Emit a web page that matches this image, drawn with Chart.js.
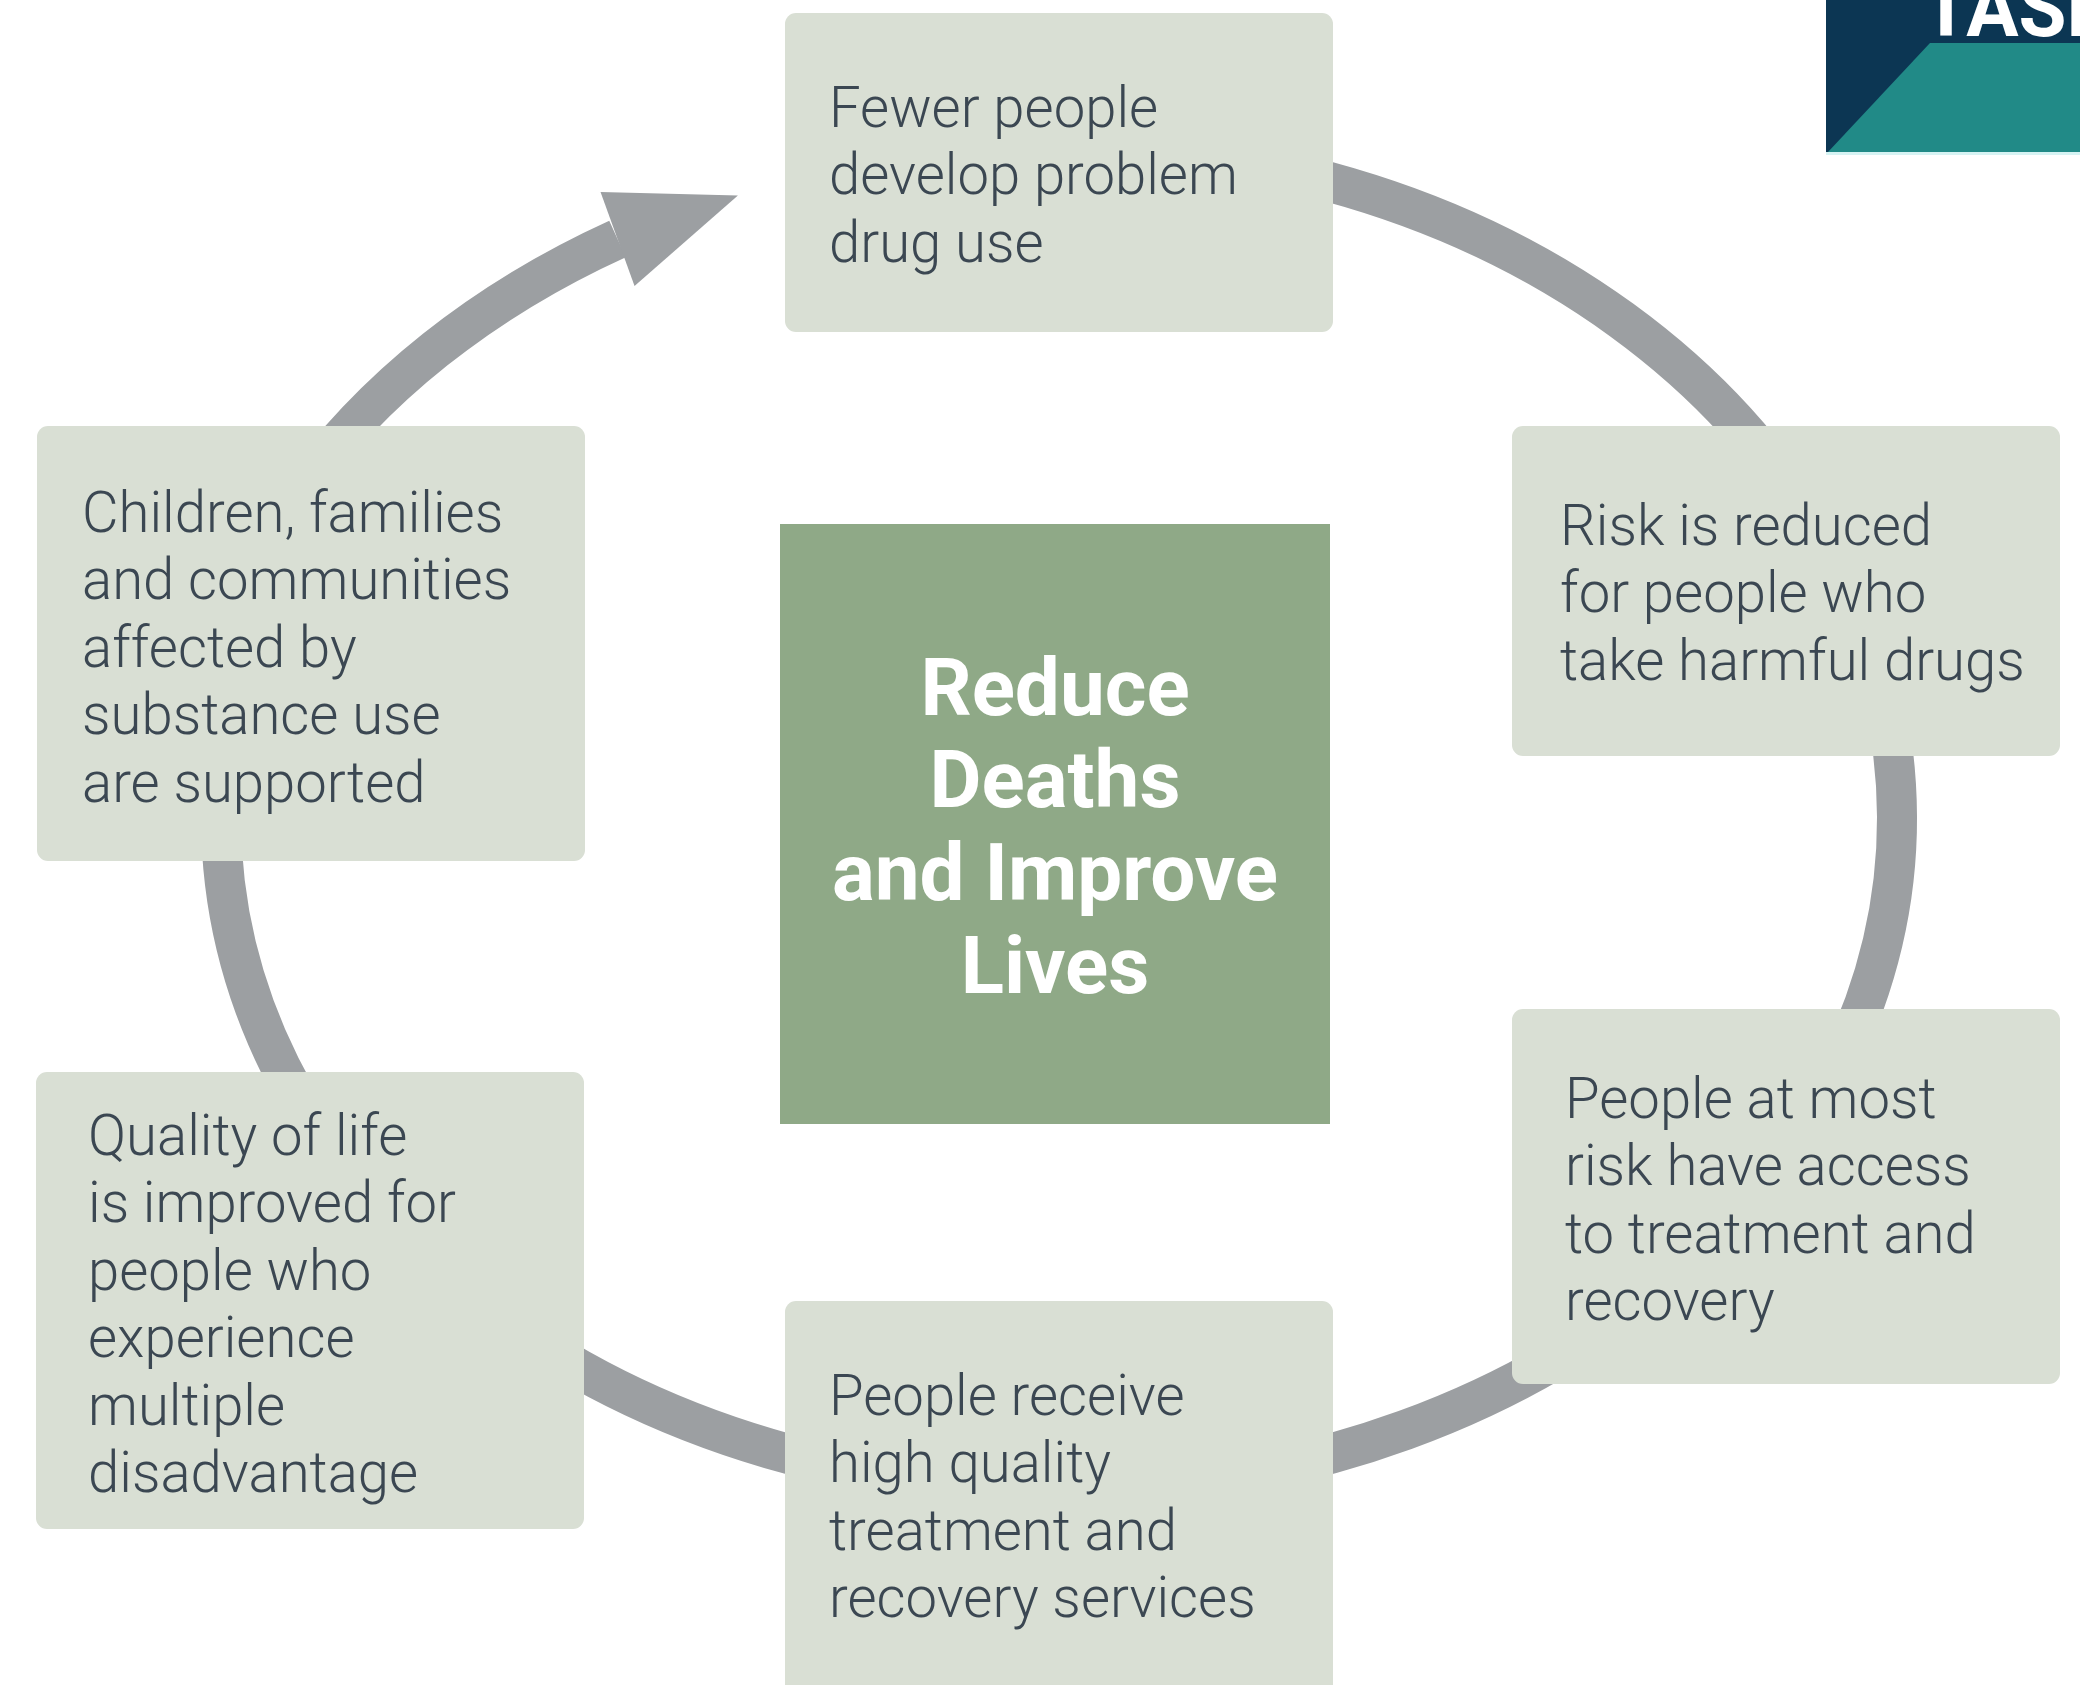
<!DOCTYPE html>
<html>
<head>
<meta charset="utf-8">
<script src="https://cdn.jsdelivr.net/npm/chart.js@4.4.0/dist/chart.umd.min.js"></script>
<style>
  html, body { margin: 0; padding: 0; background: #ffffff; }
  #wrap { width: 2080px; height: 1685px; }
</style>
</head>
<body>
<div id="wrap"><canvas id="myChart" width="2080" height="1685"></canvas></div>
<script>
// Outcome boxes, clockwise from the top
const outcomeLines = [
  ['Fewer people', 'develop problem', 'drug use'],
  ['Risk is reduced', 'for people who', 'take harmful drugs'],
  ['People at most', 'risk have access', 'to treatment and', 'recovery'],
  ['People receive', 'high quality', 'treatment and', 'recovery services'],
  ['Quality of life', 'is improved for', 'people who', 'experience', 'multiple', 'disadvantage'],
  ['Children, families', 'and communities', 'affected by', 'substance use', 'are supported']
];
const goalLines = ['Reduce', 'Deaths', 'and Improve', 'Lives'];
const logoText = 'TASK';

// Layout in data units (the axes run 0..2080 and 0..1685, top down)
const boxLeft = [785, 1512, 1512, 785, 36, 37];
const boxTop = [13, 426, 1009, 1301, 1072, 426];
const boxRight = [1333, 2060, 2060, 1333, 584, 585];
const boxBottom = [332, 756, 1384, 1700, 1529, 861];
const textLeft = [829, 1560, 1565, 829, 88, 82];
const textFirst = [106, 524, 1097, 1394, 1134, 511];
const lineStep = 67.5;

const goalBox = { left: 780, top: 524, right: 1330, bottom: 1124 };
const goalFirst = 686;
const goalStep = 92.8;

// cycle ring (ellipse) and the arrowed section
const ring = { cx: 1059, cy: 818, rx: 838, ry: 672, width: 40 };
const arrowRx = 870;
const arrowEndAngle = -2.103;
const ringStartAngle = -1.62;

const COLORS = {
  box: '#d9dfd4',
  text: '#3b4752',
  goal: '#8fa987',
  ring: '#9c9fa2',
  navy: '#0c3653',
  teal: '#218a87'
};

const px = (chart, v) => chart.scales.x.getPixelForValue(v);
const py = (chart, v) => chart.scales.y.getPixelForValue(v);

function condensedText(ctx, str, x, y, sx) {
  ctx.save();
  ctx.translate(x, y);
  ctx.scale(sx, 1);
  ctx.fillText(str, 0, 0);
  ctx.restore();
}

const diagramPlugin = {
  id: 'diagram',
  beforeDatasetsDraw(chart) {
    const ctx = chart.ctx;
    const cx = px(chart, ring.cx), cy = py(chart, ring.cy);
    const rx = px(chart, ring.cx + ring.rx) - cx;
    const ry = py(chart, ring.cy + ring.ry) - cy;
    const rxA = px(chart, ring.cx + arrowRx) - cx;

    ctx.save();
    ctx.strokeStyle = COLORS.ring;
    ctx.fillStyle = COLORS.ring;
    ctx.lineWidth = ring.width;
    ctx.lineCap = 'butt';
    // main ring: from under the top box clockwise to the left side
    ctx.beginPath();
    ctx.ellipse(cx, cy, rx, ry, 0, ringStartAngle, Math.PI, false);
    ctx.stroke();
    // arrowed section back up to the top
    ctx.beginPath();
    ctx.ellipse(cx, cy, rxA, ry, 0, Math.PI - 0.05, arrowEndAngle + 2 * Math.PI, false);
    ctx.stroke();

    // arrow head from the tangent at the end of the arc (turned a little to the right)
    const t = arrowEndAngle;
    const ex = cx + rxA * Math.cos(t), ey = cy + ry * Math.sin(t);
    let tx = -rxA * Math.sin(t), ty = ry * Math.cos(t);
    const len = Math.hypot(tx, ty);
    tx /= len; ty /= len;
    const turn = 0.08;
    const rtx = tx * Math.cos(turn) - ty * Math.sin(turn);
    const rty = tx * Math.sin(turn) + ty * Math.cos(turn);
    const nx = -rty, ny = rtx;
    const headLen = 128, headHalf = 50;
    ctx.beginPath();
    ctx.moveTo(ex + rtx * headLen, ey + rty * headLen);
    ctx.lineTo(ex + nx * headHalf, ey + ny * headHalf);
    ctx.lineTo(ex - nx * headHalf, ey - ny * headHalf);
    ctx.closePath();
    ctx.fill();
    ctx.restore();

    // outcome boxes
    ctx.save();
    outcomeLines.forEach((lines, i) => {
      const x0 = px(chart, boxLeft[i]), y0 = py(chart, boxTop[i]);
      const x1 = px(chart, boxRight[i]), y1 = py(chart, boxBottom[i]);
      ctx.fillStyle = COLORS.box;
      ctx.beginPath();
      ctx.roundRect(x0, y0, x1 - x0, y1 - y0, 11);
      ctx.fill();

      ctx.fillStyle = COLORS.text;
      ctx.font = '300 58px Roboto';
      ctx.textAlign = 'left';
      ctx.textBaseline = 'alphabetic';
      lines.forEach((line, j) => {
        const base = py(chart, textFirst[i] + j * lineStep) + 20.5;
        condensedText(ctx, line, px(chart, textLeft[i]), base, 0.97);
      });
    });

    // central goal
    const gx0 = px(chart, goalBox.left), gy0 = py(chart, goalBox.top);
    const gx1 = px(chart, goalBox.right), gy1 = py(chart, goalBox.bottom);
    ctx.fillStyle = COLORS.goal;
    ctx.fillRect(gx0, gy0, gx1 - gx0, gy1 - gy0);
    ctx.fillStyle = '#ffffff';
    ctx.font = 'bold 80px Roboto';
    ctx.textAlign = 'center';
    goalLines.forEach((line, j) => {
      const base = py(chart, goalFirst + j * goalStep) + 28.5;
      condensedText(ctx, line, (gx0 + gx1) / 2, base, 1.0);
    });

    // logo corner
    const lx0 = px(chart, 1826), ly1 = py(chart, 152);
    const lx1 = px(chart, 2080), ly0 = py(chart, 0);
    ctx.fillStyle = COLORS.navy;
    ctx.fillRect(lx0, ly0, lx1 - lx0, ly1 - ly0);
    ctx.fillStyle = COLORS.teal;
    ctx.beginPath();
    ctx.moveTo(px(chart, 1828), ly1);
    ctx.lineTo(px(chart, 1930), py(chart, 43));
    ctx.lineTo(lx1, py(chart, 43));
    ctx.lineTo(lx1, ly1);
    ctx.closePath();
    ctx.fill();
    ctx.fillStyle = '#d6f3f3';
    ctx.fillRect(lx0, ly1, lx1 - lx0, 3);
    ctx.fillStyle = '#ffffff';
    ctx.font = 'bold 82px Roboto';
    ctx.textAlign = 'left';
    condensedText(ctx, logoText, px(chart, 1922), py(chart, 36), 0.95);
    ctx.restore();
  }
};

const ctx = document.getElementById('myChart').getContext('2d');
const myChart = new Chart(ctx, {
  type: 'scatter',
  data: {
    datasets: [{
      label: 'Outcomes',
      data: outcomeLines.map((l, i) => ({
        x: (boxLeft[i] + boxRight[i]) / 2,
        y: (boxTop[i] + boxBottom[i]) / 2
      })),
      pointRadius: 0,
      pointHoverRadius: 0
    }]
  },
  options: {
    responsive: false,
    animation: false,
    devicePixelRatio: 1,
    layout: { padding: 0 },
    scales: {
      x: { type: 'linear', min: 0, max: 2080, display: false },
      y: { type: 'linear', min: 0, max: 1685, reverse: true, display: false }
    },
    plugins: {
      legend: { display: false },
      tooltip: { enabled: false }
    }
  },
  plugins: [diagramPlugin]
});
</script>
</body>
</html>
